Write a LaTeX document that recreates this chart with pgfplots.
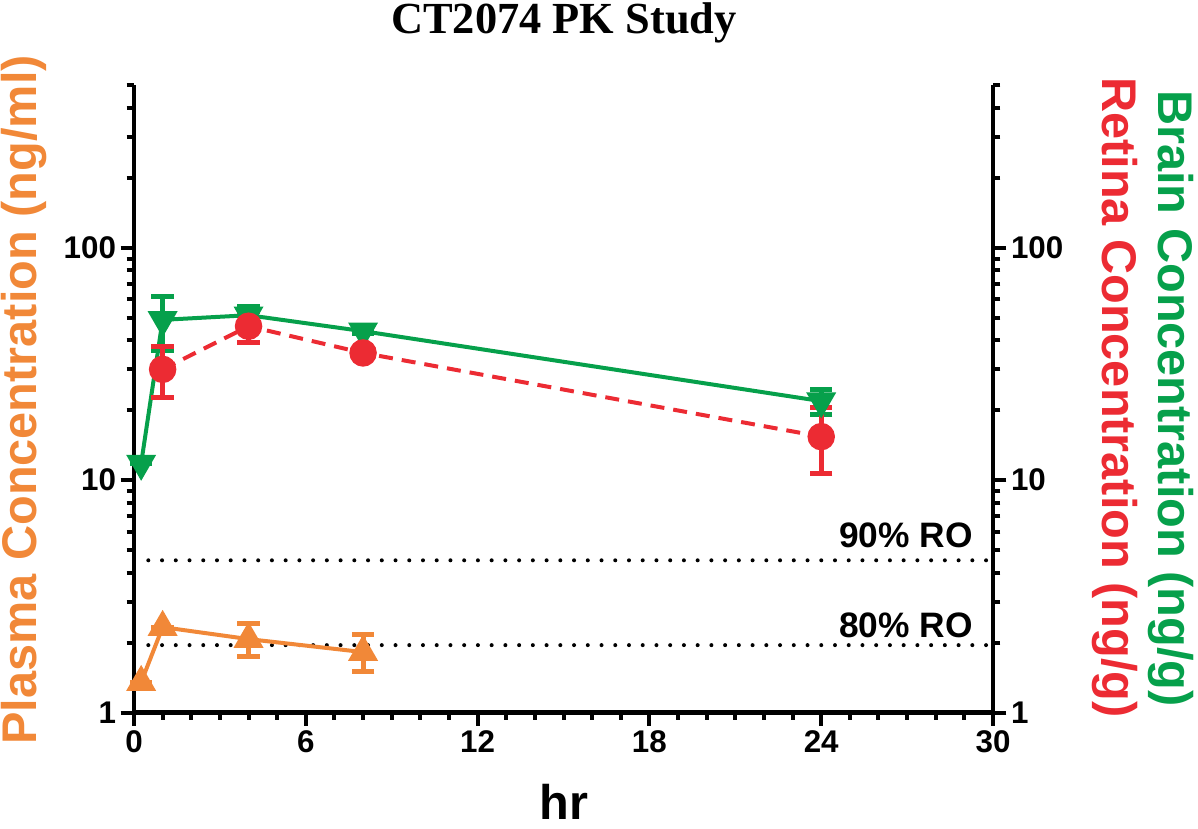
\documentclass[border=0pt]{standalone}
\usepackage{fontspec}
\setmainfont{Liberation Serif}
\newfontfamily\arial{Liberation Sans}
\usepackage{pgfplots}
\pgfplotsset{compat=1.18}
\definecolor{cor}{RGB}{241,136,56}
\definecolor{cred}{RGB}{236,43,51}
\definecolor{cgreen}{RGB}{6,160,75}
\newcommand\tickfont{\arial\bfseries\fontsize{23.5}{28}\selectfont}
\begin{document}
\begin{tikzpicture}
\useasboundingbox (-100.5pt,-86.625pt) rectangle (798pt,534.375pt);
\begin{axis}[
  scale only axis, width=644.25pt, height=470.25pt,
  at={(0pt,0pt)}, anchor=south west,
  xmin=0, xmax=30, ymode=log, ymin=1, ymax=500,
  axis line style={line width=3.6pt},
  tick style={line width=3pt, black},
  major tick length=10pt, minor tick length=5.5pt,
  tick align=outside,
  ytick={1,10,100}, yticklabels={1,10,100},
  minor ytick={2,3,4,5,6,7,8,9,20,30,40,50,60,70,80,90,200,300,400,500},
  tick label style={font=\tickfont},
  clip=false,
  axis x line*=bottom, axis y line*=left,
  xtick={0,6,12,18,24,30}, xticklabels={0,6,12,18,24,30},
  minor xtick={1,2,3,4,5,7,8,9,10,11,13,14,15,16,17,19,20,21,22,23,25,26,27,28,29},
  error bars/error bar style={line width=3.8pt, solid},
  error bars/error mark options={rotate=90, line width=3.8pt, mark size=8.4pt, solid},
]
\addplot[black, line width=3pt, line cap=round, dash pattern=on 0pt off 10.3pt] coordinates {(0.5,4.52) (29.8,4.52)};
\addplot[black, line width=3pt, line cap=round, dash pattern=on 0pt off 10.3pt] coordinates {(0.5,1.95) (29.8,1.95)};
\addplot[cor, line width=3pt, mark=triangle*, mark size=10pt, mark options={solid, fill=cor},
  error bars/y dir=both, error bars/y explicit]
 coordinates {(0.25,1.35) +- (0,0) (1,2.33) +- (0,0) (4,2.07) += (0,0.34) -= (0,0.33) (8,1.82) += (0,0.34) -= (0,0.32)};
\addplot[cgreen, line width=3pt, mark=triangle*, mark size=10pt, mark options={solid, rotate=180, fill=cgreen},
  error bars/y dir=both, error bars/y explicit]
 coordinates {(0.25,11.8) +- (0,0) (1,49) +- (0,13) (4,51.3) +- (0,4.8) (8,43.8) +- (0,1) (24,21.9) +- (0,2.7)};
\addplot[cred, line width=3pt, dash pattern=on 10.5pt off 6.75pt, mark=*, mark size=8.8pt, mark options={solid, fill=cred},
  error bars/y dir=both, error bars/y explicit]
 coordinates {(1,30) += (0,7.7) -= (0,7.3) (4,46) += (0,7.4) -= (0,7) (8,35.3) +- (0,1) (24,15.4) += (0,5.1) -= (0,4.7)};
\end{axis}
\begin{axis}[
  scale only axis, width=644.25pt, height=470.25pt,
  at={(0pt,0pt)}, anchor=south west,
  xmin=0, xmax=30, ymode=log, ymin=1, ymax=500,
  axis line style={line width=3.6pt},
  tick style={line width=3pt, black},
  major tick length=10pt, minor tick length=5.5pt,
  tick align=outside,
  ytick={1,10,100}, yticklabels={1,10,100},
  minor ytick={2,3,4,5,6,7,8,9,20,30,40,50,60,70,80,90,200,300,400,500},
  tick label style={font=\tickfont},
  clip=false,
  axis x line=none, axis y line*=right,
  xtick=\empty,
]
\addplot[draw=none, forget plot] coordinates {(1,10) (2,20)};
\end{axis}
\node[anchor=base, font=\bfseries\fontsize{33.3}{40}\selectfont] at (322.5pt,509.6pt) {CT2074 PK Study};
\node[anchor=base, inner sep=0pt, font=\arial\bfseries\fontsize{36.5}{44}\selectfont] at (322.5pt,-80.5pt) {hr};
\node[anchor=base, rotate=90, text=cor, font=\arial\bfseries\fontsize{36.5}{44}\selectfont] at (-72.75pt,234.4pt) {Plasma Concentration (ng/ml)};
\node[anchor=base, rotate=-90, text=cred, font=\arial\bfseries\fontsize{36.5}{44}\selectfont] at (726pt,236.25pt) {Retina Concentration (ng/g)};
\node[anchor=base, rotate=-90, text=cgreen, font=\arial\bfseries\fontsize{36.5}{44}\selectfont] at (768pt,235.5pt) {Brain Concentration (ng/g)};
\node[anchor=base east, inner sep=0pt, font=\arial\bfseries\fontsize{26.5}{32}\selectfont] at (629.25pt,124.1pt) {90\% RO};
\node[anchor=base east, inner sep=0pt, font=\arial\bfseries\fontsize{26.5}{32}\selectfont] at (629.25pt,56.6pt) {80\% RO};
\end{tikzpicture}
\end{document}
